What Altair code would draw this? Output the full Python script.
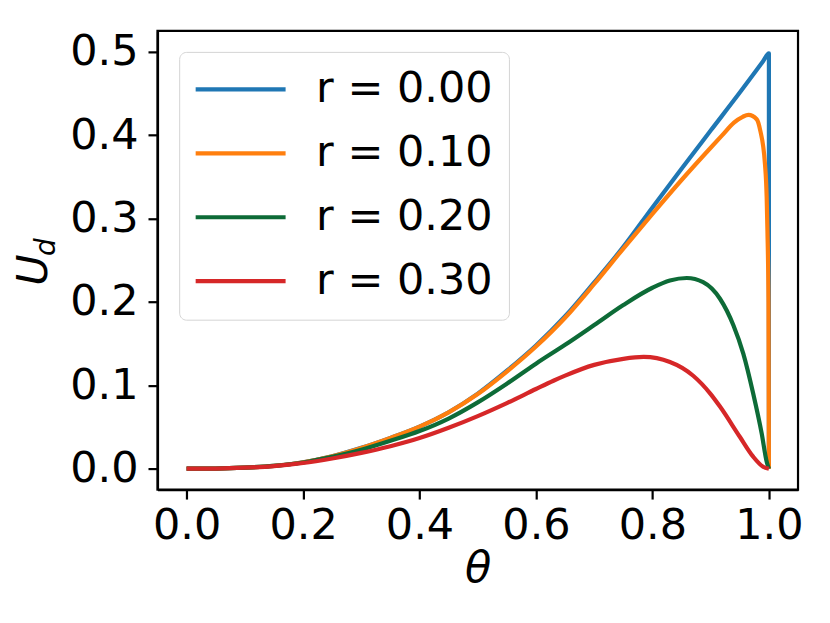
import altair as alt
import pandas as pd

labels = ["r = 0.00", "r = 0.10", "r = 0.20", "r = 0.30"]
colors = ["#1f77b4", "#ff7f0e", "#0d6b37", "#d62728"]

theta_r00 = [0.00, 0.05, 0.10, 0.15, 0.20, 0.25, 0.30, 0.35, 0.40, 0.45, 0.50, 0.55,
             0.60, 0.65, 0.70, 0.75, 0.80, 0.85, 0.90, 0.95, 0.99, 1.00, 1.00]
u_r00 = [0.0, 0.0002, 0.0013, 0.0035, 0.0078, 0.015, 0.025, 0.037, 0.0505, 0.0677, 0.090, 0.1175,
         0.1478, 0.1828, 0.2235, 0.266, 0.3133, 0.3598, 0.4055, 0.451, 0.4886, 0.498, 0.0]

theta_r10 = [0.00, 0.05, 0.10, 0.15, 0.20, 0.25, 0.30, 0.35, 0.40, 0.45, 0.50, 0.55,
             0.60, 0.65, 0.70, 0.75, 0.80, 0.85, 0.90, 0.92, 0.94, 0.955, 0.965, 0.979,
             0.985, 0.9933, 0.9962, 0.9975, 0.9993, 1.00]
u_r10 = [0.0, 0.0002, 0.0013, 0.0035, 0.0078, 0.015, 0.0249, 0.0369, 0.0504, 0.0676, 0.0895, 0.1165,
         0.1465, 0.181, 0.2215, 0.264, 0.3056, 0.3462, 0.3849, 0.400, 0.415, 0.422, 0.4243, 0.419,
         0.406, 0.365, 0.325, 0.285, 0.200, 0.0]

theta_r20 = [0.00, 0.05, 0.10, 0.15, 0.20, 0.25, 0.30, 0.35, 0.40, 0.45, 0.50, 0.55,
             0.60, 0.65, 0.70, 0.75, 0.80, 0.83, 0.859, 0.887, 0.916, 0.939, 0.956, 0.973,
             0.9876, 0.9962, 1.00]
u_r20 = [0.0, 0.0002, 0.0013, 0.0034, 0.0075, 0.0143, 0.0228, 0.0335, 0.0452, 0.0602, 0.0796, 0.102,
         0.126, 0.1486, 0.1723, 0.1963, 0.2170, 0.2257, 0.2287, 0.2237, 0.2038, 0.172, 0.138, 0.0902,
         0.0423, 0.0084, 0.0]

theta_r30 = [0.00, 0.05, 0.10, 0.15, 0.20, 0.25, 0.30, 0.35, 0.40, 0.45, 0.50, 0.55,
             0.60, 0.63, 0.65, 0.70, 0.75, 0.785, 0.83, 0.87, 0.90, 0.916, 0.95, 0.973, 0.99, 1.00]
u_r30 = [0.0, 0.0002, 0.0012, 0.0032, 0.0068, 0.0123, 0.019, 0.027, 0.0368, 0.0491, 0.0631, 0.0787,
         0.0956, 0.1055, 0.1116, 0.1245, 0.1318, 0.134, 0.128, 0.1115, 0.0895, 0.0745, 0.0383, 0.0144,
         0.0024, 0.0]

x_ticks = [0.0, 0.2, 0.4, 0.6, 0.8, 1.0]
y_ticks = [0.0, 0.1, 0.2, 0.3, 0.4, 0.5]

rows = []
for lab, th, uu in zip(labels, [theta_r00, theta_r10, theta_r20, theta_r30],
                       [u_r00, u_r10, u_r20, u_r30]):
    for i, (a, b) in enumerate(zip(th, uu)):
        rows.append({"series": lab, "theta": a, "u": b, "i": i})
df = pd.DataFrame(rows)

FONT = "DejaVu Sans"
FS = 43

lines = alt.Chart(df).mark_line(strokeWidth=4.2, strokeJoin="round",
                                interpolate="monotone").encode(
    x=alt.X("theta:Q",
            scale=alt.Scale(domain=[-0.05, 1.05], nice=False, zero=False),
            axis=alt.Axis(values=x_ticks, format=".1f", title="θ",
                          titleFont=FONT, titleFontStyle="italic", titleFontWeight="normal",
                          titleFontSize=FS, titleBaseline="alphabetic", titleY=92,
                          labelPadding=5)),
    y=alt.Y("u:Q",
            scale=alt.Scale(domain=[-0.025, 0.525], nice=False, zero=False),
            axis=alt.Axis(values=y_ticks, format=".1f", title=None, labelPadding=10)),
    color=alt.Color("series:N", title=None,
                    scale=alt.Scale(domain=labels, range=colors),
                    legend=alt.Legend(orient="none", legendX=21.7, legendY=21,
                                      padding=16, cornerRadius=7,
                                      strokeColor="#d4d4d4", fillColor="white",
                                      symbolType="M-3,0H3", symbolSize=900,
                                      symbolStrokeWidth=4.2, symbolOffset=24,
                                      labelOffset=54, labelFontSize=FS, labelFont=FONT,
                                      labelColor="black", rowPadding=20, labelLimit=400)),
    order="i:Q",
)

u_title = alt.Chart(pd.DataFrame({"t": ["U"]})).mark_text(
    font=FONT, fontStyle="italic", fontSize=FS, angle=270, align="center",
    baseline="alphabetic", color="black"
).encode(text="t:N", x=alt.value(-110.6), y=alt.value(239.3))

d_title = alt.Chart(pd.DataFrame({"t": ["d"]})).mark_text(
    font=FONT, fontStyle="italic", fontSize=28, angle=270, align="center",
    baseline="alphabetic", color="black"
).encode(text="t:N", x=alt.value(-102.6), y=alt.value(216.3))

chart = alt.layer(lines, u_title, d_title).properties(
    width=641, height=459,
    autosize=alt.AutoSizeParams(type="none"),
    padding={"left": 149.6, "top": 22.7, "right": 24, "bottom": 125},
    background="white",
).configure(font=FONT).configure_view(
    stroke="black", strokeWidth=2.2
).configure_axis(
    grid=False, labelFont=FONT, labelFontSize=FS, labelColor="black",
    domainColor="black", domainWidth=2.2, tickColor="black", tickWidth=2.2, tickSize=9.5,
)

chart.save("out.html", embed_options={"renderer": "svg", "actions": False})
